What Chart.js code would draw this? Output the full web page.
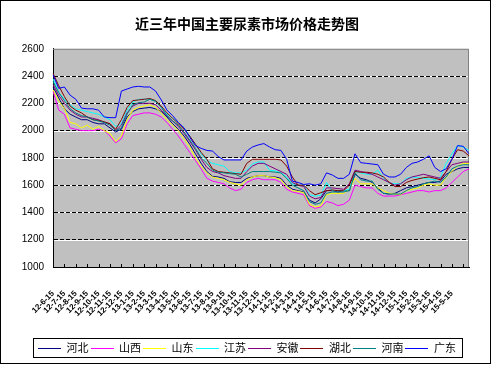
<!DOCTYPE html>
<html><head><meta charset="utf-8">
<script src="https://cdn.jsdelivr.net/npm/chart.js@4/dist/chart.umd.min.js"></script>
<style>html,body{margin:0;padding:0;background:#fff}canvas{display:block}</style>
</head><body>
<canvas id="c" width="494" height="366"></canvas>
<script>
const titleText = '近三年中国主要尿素市场价格走势图';
const tickLabels = ['12-6-15','12-7-15','12-8-15','12-9-15','12-10-15','12-11-15','12-12-15',
 '13-1-15','13-2-15','13-3-15','13-4-15','13-5-15','13-6-15','13-7-15','13-8-15','13-9-15','13-10-15','13-11-15','13-12-15',
 '14-1-15','14-2-15','14-3-15','14-4-15','14-5-15','14-6-15','14-7-15','14-8-15','14-9-15','14-10-15','14-11-15','14-12-15',
 '15-1-15','15-2-15','15-3-15','15-4-15','15-5-15'];
const extraDates = ['15-6-15','15-6-30'];
const seriesNames = ['河北','山西','山东','江苏','安徽','湖北','河南','广东'];
const seriesColors = ['#000080','#FF00FF','#FFFF00','#00FFFF','#800080','#800000','#008080','#0000FF'];
const hebei = [2320,2240,2160,2120,2100,2080,2080,2060,2050,2050, 2020,1990,2010,2100,2140,2160,2165,2170,2160,2140, 2100,2050,2010,1960,1900,1830,1760,1700,1665,1660, 1650,1625,1620,1620,1650,1660,1670,1670,1660,1660, 1650,1600,1570,1560,1550,1490,1470,1500,1560,1560, 1550,1560,1560,1680,1650,1640,1620,1580,1540,1535, 1540,1560,1580,1590,1600,1610,1620,1620,1630,1680, 1700,1720,1730,1730];
const shanxi = [2290,2150,2120,2020,2010,2000,2000,2000,2010,2000, 1960,1910,1940,2050,2110,2120,2130,2130,2120,2100, 2060,2010,1960,1900,1840,1780,1720,1650,1630,1620, 1610,1580,1560,1570,1620,1640,1650,1640,1640,1640, 1620,1570,1550,1540,1530,1450,1430,1440,1480,1470, 1450,1460,1490,1600,1590,1580,1580,1540,1520,1520, 1520,1530,1540,1550,1560,1560,1550,1560,1560,1580, 1620,1660,1700,1720];
const shandong = [2300,2220,2160,2060,2050,2020,2040,2010,2030,2000, 1980,1920,1960,2080,2150,2170,2180,2190,2170,2130, 2080,2040,2000,1940,1880,1800,1740,1690,1660,1650, 1640,1620,1610,1600,1640,1660,1670,1670,1660,1655, 1640,1590,1560,1555,1545,1460,1440,1450,1530,1540, 1540,1540,1570,1650,1610,1610,1610,1580,1560,1540, 1535,1530,1560,1570,1580,1600,1610,1600,1600,1660, 1700,1740,1760,1760];
const jiangsu = [2380,2280,2230,2190,2160,2150,2140,2130,2120,2100, 2080,2030,2050,2150,2210,2230,2230,2230,2215,2170, 2120,2090,2060,2020,1960,1900,1830,1780,1760,1750, 1740,1700,1690,1690,1710,1755,1770,1770,1710,1705, 1690,1660,1610,1600,1600,1530,1520,1525,1620,1560, 1560,1560,1570,1700,1690,1680,1680,1710,1650,1615, 1610,1610,1650,1660,1655,1650,1645,1640,1660,1760, 1830,1890,1880,1855];
const anhui = [2340,2260,2200,2150,2120,2100,2100,2090,2080,2060, 2050,2000,2040,2130,2180,2200,2200,2200,2190,2150, 2110,2070,2030,1980,1920,1860,1790,1730,1700,1690, 1670,1660,1650,1650,1700,1740,1760,1760,1740,1720, 1700,1680,1620,1600,1590,1520,1500,1510,1580,1580, 1575,1570,1610,1710,1700,1690,1680,1660,1640,1620, 1600,1610,1640,1660,1670,1680,1670,1660,1650,1700, 1750,1760,1770,1770];
const hubei = [2420,2330,2250,2180,2150,2130,2100,2080,2075,2065, 2050,2010,2080,2170,2220,2225,2230,2235,2220,2180, 2130,2090,2050,2010,1960,1900,1840,1790,1720,1700, 1695,1690,1685,1680,1760,1790,1790,1790,1790,1790, 1785,1740,1660,1600,1600,1560,1530,1545,1560,1565, 1560,1560,1600,1700,1695,1695,1690,1680,1660,1620, 1590,1590,1620,1635,1645,1655,1660,1650,1640,1700, 1790,1860,1850,1815];
const henan = [2360,2280,2220,2160,2130,2110,2100,2080,2070,2060, 2040,2000,2020,2120,2190,2205,2210,2230,2215,2170, 2110,2070,2040,1990,1930,1870,1800,1760,1710,1695, 1690,1685,1680,1660,1680,1700,1700,1700,1700,1695, 1690,1650,1600,1580,1560,1480,1460,1470,1540,1550, 1550,1550,1560,1690,1640,1630,1630,1570,1540,1535, 1535,1535,1560,1580,1590,1610,1620,1630,1620,1660, 1720,1740,1750,1750];
const guangdong = [2410,2310,2320,2260,2230,2165,2160,2160,2150,2100, 2095,2095,2290,2305,2320,2325,2320,2320,2290,2225, 2150,2110,2060,2020,1950,1890,1870,1855,1850,1810, 1785,1785,1785,1785,1850,1880,1895,1905,1880,1860, 1855,1790,1630,1620,1605,1610,1600,1610,1690,1675, 1650,1650,1680,1830,1765,1760,1755,1750,1680,1660, 1660,1680,1730,1760,1770,1790,1815,1730,1700,1720, 1790,1890,1885,1830];
const yTicks = {min: 1000, max: 2600, step: 200};

const categories = tickLabels.flatMap(l => [l, l.replace(/-15$/, '-30')]).concat(extraDates);
const seriesValues = [hebei, shanxi, shandong, jiangsu, anhui, hubei, henan, guangdong];
const legendSample = 23;

const decor = {
  id: 'decor',
  beforeDraw(chart) {
    const {ctx, chartArea: a, scales: {y}} = chart;
    ctx.save();
    ctx.fillStyle = '#C0C0C0';
    ctx.fillRect(a.left, a.top, a.right - a.left, a.bottom - a.top);
    ctx.strokeStyle = '#FFFFFF';
    ctx.lineWidth = 1;
    for (let v = yTicks.min + yTicks.step; v < yTicks.max; v += yTicks.step) {
      const py = Math.round(y.getPixelForValue(v)) + 0.5;
      ctx.beginPath(); ctx.moveTo(a.left, py); ctx.lineTo(a.right, py); ctx.stroke();
    }
    ctx.restore();
  },
  beforeDatasetsDraw(chart) {
    const {ctx, chartArea: a, scales: {x}} = chart;
    ctx.save();
    ctx.strokeStyle = '#808080';
    ctx.lineWidth = 1;
    ctx.beginPath();
    ctx.moveTo(a.left, a.top + 0.5); ctx.lineTo(a.right - 0.5, a.top + 0.5); ctx.lineTo(a.right - 0.5, a.bottom);
    ctx.stroke();
    ctx.strokeStyle = '#000';
    for (let i = 2; i < categories.length; i += 2) {
      const px = Math.round(x.getPixelForValue(i)) + 0.5;
      ctx.beginPath(); ctx.moveTo(px, a.bottom); ctx.lineTo(px, a.bottom - 3); ctx.stroke();
    }
    ctx.restore();
  },
  afterDraw(chart) {
    const {ctx} = chart;
    const lg = chart.legend;
    ctx.save();
    ctx.lineWidth = 1;
    if (lg && lg.legendHitBoxes && lg.legendHitBoxes.length) {
      const hb = lg.legendHitBoxes;
      hb.forEach((h, i) => {
        const cy = Math.round(h.top + h.height / 2) + 0.5;
        ctx.strokeStyle = seriesColors[i];
        ctx.beginPath(); ctx.moveTo(Math.round(h.left), cy); ctx.lineTo(Math.round(h.left) + legendSample, cy); ctx.stroke();
      });
      ctx.strokeStyle = '#000';
      const l = hb[0].left - 5, r = hb[hb.length - 1].left + hb[hb.length - 1].width + 6;
      const t = hb[0].top - 4, b = hb[0].top + hb[0].height + 4;
      ctx.strokeRect(Math.round(l) + 0.5, Math.round(t) + 0.5, Math.round(r - l), Math.round(b - t));
    }
    ctx.strokeStyle = '#000';
    ctx.strokeRect(0.5, 0.5, 490, 363);
    ctx.restore();
  }
};

new Chart(document.getElementById('c'), {
  type: 'line',
  data: {
    labels: categories,
    datasets: seriesNames.map((n, k) => ({
      label: n,
      data: seriesValues[k],
      borderColor: seriesColors[k],
      backgroundColor: seriesColors[k],
      borderWidth: 1,
      pointRadius: 0,
      tension: 0,
      fill: false,
      order: seriesNames.length - k
    }))
  },
  options: {
    responsive: false,
    animation: false,
    events: [],
    layout: {padding: {left: 0, right: 0, top: 0, bottom: 3}},
    plugins: {
      title: {display: true, text: titleText, color: '#000',
        font: {family: '"Noto Sans CJK SC"', size: 14, weight: 'bold'},
        padding: {top: 15, bottom: 17}},
      legend: {position: 'bottom',
        labels: {color: '#000', font: {family: '"Noto Sans CJK SC"', size: 11},
          usePointStyle: false, boxWidth: legendSample, boxHeight: 0, padding: 2,
          generateLabels: chart => chart.data.datasets.map((d, i) => ({
            text: d.label, fillStyle: 'rgba(0,0,0,0)', strokeStyle: 'rgba(0,0,0,0)',
            lineWidth: 0, hidden: false, fontColor: '#000', datasetIndex: i
          }))}},
      tooltip: {enabled: false}
    },
    scales: {
      x: {
        grid: {display: false},
        border: {display: true, color: '#000', width: 1},
        ticks: {autoSkip: false, minRotation: 45, maxRotation: 45, color: '#000', padding: 14,
          font: {family: '"Liberation Sans"', size: 8, weight: 'bold'},
          callback: (v, i) => (i % 2 === 0 && i / 2 < tickLabels.length ? categories[i] : null)},
        afterFit: s => { s.height = 73; }
      },
      y: {
        min: yTicks.min, max: yTicks.max,
        grid: {drawTicks: false, color: c => (c.tick && (c.tick.value === yTicks.min || c.tick.value === yTicks.max)) ? 'rgba(0,0,0,0)' : '#000'},
        border: {display: true, color: '#000', width: 1, dash: [4, 2]},
        ticks: {stepSize: yTicks.step, color: '#000', padding: 9,
          font: {family: '"Liberation Sans"', size: 10},
          callback: v => String(v)},
        afterFit: s => { s.width = 53; }
      },
      yRight: {
        position: 'right', min: yTicks.min, max: yTicks.max,
        grid: {display: false}, border: {display: false},
        ticks: {display: false},
        afterFit: s => { s.width = 25; }
      }
    }
  },
  plugins: [decor]
});
</script>
</body></html>
